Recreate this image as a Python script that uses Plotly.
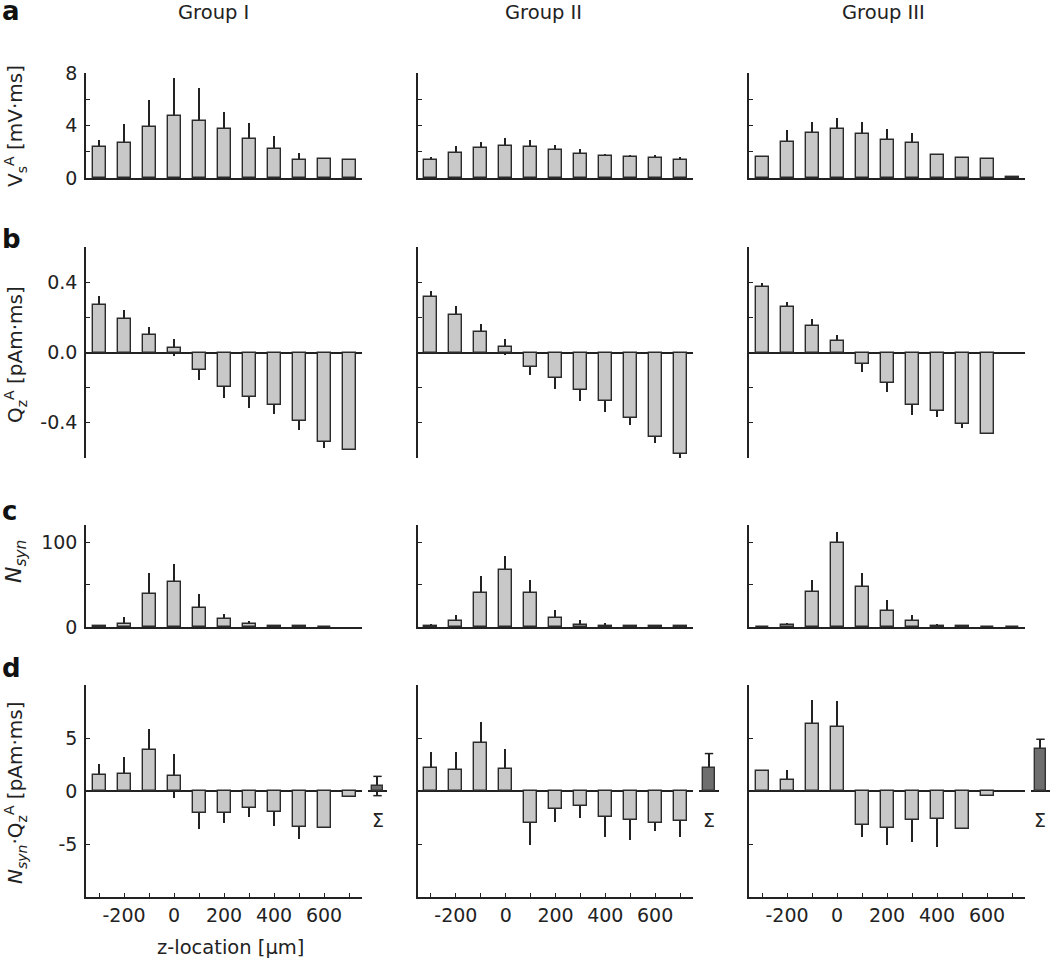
import plotly.graph_objects as go

W, H = 1050, 963

# ---------------- data ----------------
z_um = [-300, -200, -100, 0, 100, 200, 300, 400, 500, 600, 700]
x_major_vals = [-200, 0, 200, 400, 600]
x_major_text = ["-200", "0", "200", "400", "600"]
x_minor_vals = [-300, -100, 100, 300, 500, 700]
group_names = ["Group I", "Group II", "Group III"]

# row a: V_s^A [mV·ms]
vs_g1 = [2.37, 2.70, 3.91, 4.70, 4.32, 3.74, 2.95, 2.20, 1.36, 1.44, 1.34]
vs_g1_err = [0.51, 1.44, 2.02, 2.90, 2.57, 1.29, 1.24, 0.98, 0.56, 0, 0]
vs_g2 = [1.38, 1.93, 2.25, 2.45, 2.35, 2.13, 1.85, 1.65, 1.58, 1.50, 1.38]
vs_g2_err = [0.25, 0.50, 0.53, 0.63, 0.58, 0.40, 0.35, 0.20, 0.20, 0.23, 0.25]
vs_g3 = [1.63, 2.73, 3.43, 3.73, 3.38, 2.93, 2.63, 1.73, 1.55, 1.43, 0.05]
vs_g3_err = [0, 0.90, 0.80, 0.85, 0.87, 0.80, 0.82, 0.07, 0, 0, 0]

# row b: Q_z^A [pAm·ms]
qz_g1 = [0.270, 0.190, 0.099, 0.027, -0.101, -0.196, -0.251, -0.301, -0.390, -0.510, -0.552]
qz_g1_err = [0.050, 0.052, 0.048, 0.049, 0.055, 0.061, 0.067, 0.046, 0.048, 0.033, 0]
qz_g2 = [0.313, 0.214, 0.114, 0.030, -0.080, -0.146, -0.212, -0.277, -0.372, -0.480, -0.576]
qz_g2_err = [0.036, 0.048, 0.049, 0.044, 0.049, 0.064, 0.063, 0.060, 0.041, 0.034, 0.027]
qz_g3 = [0.375, 0.258, 0.152, 0.063, -0.068, -0.174, -0.300, -0.334, -0.404, -0.461, None]
qz_g3_err = [0.021, 0.032, 0.041, 0.039, 0.044, 0.050, 0.055, 0.032, 0.026, 0, 0]

# row c: N_syn
ns_g1 = [0.8, 4.0, 38.5, 52.4, 21.8, 9.5, 3.2, 1.2, 0.8, 0.4, None]
ns_g1_err = [0.8, 7.5, 25.0, 22.2, 16.7, 5.6, 4.3, 1.6, 1.2, 0.2, 0]
ns_g2 = [1.6, 7.1, 39.7, 66.7, 39.7, 10.3, 2.8, 1.6, 1.2, 0.8, 0.8]
ns_g2_err = [2.0, 7.6, 19.8, 17.0, 15.9, 9.5, 5.5, 3.2, 1.6, 0.8, 0.8]
ns_g3 = [0.4, 2.4, 41.7, 98.4, 46.8, 18.7, 7.1, 1.2, 0.8, 0.2, 0.2]
ns_g3_err = [0, 2.8, 13.1, 13.9, 16.7, 12.6, 7.2, 2.8, 1.6, 0, 0]

# row d: N_syn·Q_z^A [pAm·ms]
nq_g1 = [1.47, 1.56, 3.88, 1.41, -2.06, -2.06, -1.56, -1.97, -3.44, -3.53, -0.56]
nq_g1_err = [1.09, 1.63, 2.00, 2.09, 1.57, 0.94, 0.88, 1.31, 1.12, 0, 0]
nq_g2 = [2.13, 1.94, 4.50, 2.03, -3.03, -1.69, -1.44, -2.47, -2.78, -3.03, -2.84]
nq_g2_err = [1.59, 1.72, 2.00, 1.91, 2.10, 1.22, 1.15, 1.87, 1.85, 0.72, 1.47]
nq_g3 = [1.91, 1.00, 6.28, 6.06, -3.16, -3.47, -2.75, -2.66, -3.59, -0.50, None]
nq_g3_err = [0, 0.97, 2.31, 2.44, 1.22, 1.66, 2.09, 2.59, 0, 0, 0]

# Σ (sum over z) for row d
sigma_vals = [0.47, 2.19, 3.97]
sigma_errs = [0.91, 1.34, 0.91]

# y-axis ticks per row
row_ranges = [[0, 8], [-0.6, 0.6], [0, 120], [-10, 10]]
row_major_vals = [[0, 4, 8], [-0.4, 0, 0.4], [0, 100], [-5, 0, 5]]
row_major_text = [["0", "4", "8"], ["-0.4", "0.0", "0.4"], ["0", "100"], ["-5", "0", "5"]]
row_minor_vals = [[2, 6], [-0.2, 0.2], [50], []]

# ---------------- style / layout ----------------
FONT = "DejaVu Sans, Liberation Sans, Arial, sans-serif"
INK = "#222222"
BAR_FILL = "#c8c8c8"
SIG_FILL = "#6e6e6e"

col_x = [(86, 362), (418, 693), (749, 1025)]
sig_x = [(368, 387), (699, 719), (1031, 1050)]
row_y = [(73, 178), (247, 458), (525, 627), (685, 897)]

rows_data = [
    [(vs_g1, vs_g1_err), (vs_g2, vs_g2_err), (vs_g3, vs_g3_err)],
    [(qz_g1, qz_g1_err), (qz_g2, qz_g2_err), (qz_g3, qz_g3_err)],
    [(ns_g1, ns_g1_err), (ns_g2, ns_g2_err), (ns_g3, ns_g3_err)],
    [(nq_g1, nq_g1_err), (nq_g2, nq_g2_err), (nq_g3, nq_g3_err)],
]


def dom_x(a, b):
    return [a / W, b / W]


def dom_y(top, bottom):
    return [1 - bottom / H, 1 - top / H]


def key(prefix, n):
    return prefix if n == 1 else f"{prefix}{n}"


fig = go.Figure()
layout = {}
tick_font = dict(family=FONT, size=19, color=INK)

for r in range(4):
    for c in range(3):
        n = r * 3 + c + 1
        xa, ya = key("x", n), key("y", n)
        vals, errs = rows_data[r][c]
        base = [None if v is None else v - e for v, e in zip(vals, errs)]
        span = [None if v is None else 2 * e for v, e in zip(vals, errs)]
        # error lines first, so the bar hides the inner half
        fig.add_trace(go.Bar(x=z_um, y=span, base=base, width=6,
                             marker=dict(color=INK, line=dict(width=0)),
                             xaxis=xa, yaxis=ya, hoverinfo="skip"))
        fig.add_trace(go.Bar(x=z_um, y=vals, width=52,
                             marker=dict(color=BAR_FILL, line=dict(color="#2b2b2b", width=1.4)),
                             xaxis=xa, yaxis=ya))
        is_d = r == 3
        layout[key("xaxis", n)] = dict(
            domain=dom_x(*col_x[c]), anchor=ya, range=[-352, 752],
            showgrid=False, zeroline=False,
            showline=(r in (0, 2, 3)), linecolor=INK, linewidth=1.5,
            ticks="inside" if is_d else "", ticklen=4, tickwidth=1.2, tickcolor=INK,
            tickmode="array", tickvals=x_major_vals, ticktext=x_major_text,
            minor=dict(tickmode="array", tickvals=x_minor_vals if is_d else [],
                       ticks="inside" if is_d else "", ticklen=4, tickwidth=1.2,
                       tickcolor=INK, showgrid=False),
            showticklabels=is_d, tickfont=tick_font,
            automargin=False, fixedrange=True,
        )
        layout[key("yaxis", n)] = dict(
            domain=dom_y(*row_y[r]), anchor=xa, range=row_ranges[r],
            showgrid=False, zeroline=(r in (1, 3)), zerolinecolor=INK, zerolinewidth=1.5,
            showline=True, linecolor=INK, linewidth=1.5,
            ticks="inside", ticklen=4, tickwidth=1.2, tickcolor=INK,
            tickmode="array", tickvals=row_major_vals[r], ticktext=row_major_text[r],
            minor=dict(tickmode="array", tickvals=row_minor_vals[r], ticks="inside",
                       ticklen=4, tickwidth=1.2, tickcolor=INK, showgrid=False),
            showticklabels=(c == 0), tickfont=tick_font,
            ticklabelstandoff=3, automargin=False, fixedrange=True,
        )

# Σ panels
for c in range(3):
    n = 13 + c
    xa, ya = key("x", n), key("y", n)
    v, e = sigma_vals[c], sigma_errs[c]
    fig.add_trace(go.Bar(x=[0], y=[2 * e], base=[v - e], width=0.08,
                         marker=dict(color=INK, line=dict(width=0)),
                         xaxis=xa, yaxis=ya, hoverinfo="skip"))
    fig.add_trace(go.Bar(x=[0], y=[v], width=0.6,
                         marker=dict(color=SIG_FILL, line=dict(color="#333333", width=1.4)),
                         xaxis=xa, yaxis=ya))
    cap_y = [v + e] + ([v - e] if (v - e) < 0 else [])
    fig.add_trace(go.Scatter(x=[0] * len(cap_y), y=cap_y, mode="markers",
                             marker=dict(symbol="line-ew", size=6,
                                         line=dict(color=INK, width=1.5)),
                             xaxis=xa, yaxis=ya, hoverinfo="skip"))
    layout[key("xaxis", n)] = dict(domain=dom_x(*sig_x[c]), anchor=ya, range=[-0.5, 0.5],
                                   showgrid=False, zeroline=False, showline=False,
                                   showticklabels=False, ticks="", fixedrange=True)
    layout[key("yaxis", n)] = dict(domain=dom_y(*row_y[3]), anchor=xa, range=row_ranges[3],
                                   showgrid=False, zeroline=True, zerolinecolor=INK,
                                   zerolinewidth=1.5, showline=False, showticklabels=False,
                                   ticks="", fixedrange=True)

annotations = []


def ann(text, x, y, size, angle=0, bold=False, color=INK, xanchor="center"):
    annotations.append(dict(
        text=f"<b>{text}</b>" if bold else text, x=x / W, y=1 - y / H,
        xref="paper", yref="paper", xanchor=xanchor, yanchor="middle",
        showarrow=False, textangle=angle,
        font=dict(family=FONT, size=size, color=color)))


# group titles
for name, cx in zip(group_names, [213, 543, 883]):
    ann(name, cx, 12, 19.5)

# panel letters
for letter, yy in zip(["a", "b", "c", "d"], [11, 239, 511, 668]):
    ann(letter, 0, yy, 26, bold=True, color="#111111", xanchor="left")

# y-axis titles
ann("V<sub>s</sub><sup>A</sup> [mV·ms]", 15, 126, 20, angle=-90)
ann("Q<sub>z</sub><sup>A</sup> [pAm·ms]", 15, 355, 20, angle=-90)
ann("<i>N</i><sub><i>syn</i></sub>", 15, 562, 22, angle=-90)
ann("<i>N</i><sub><i>syn</i></sub>·Q<sub>z</sub><sup>A</sup> [pAm·ms]", 15, 793, 20, angle=-90)

# x-axis title
ann("z-location [µm]", 230, 947, 19.5)

# Σ labels
for cx in [378, 709, 1040]:
    ann("Σ", cx, 820, 19)

fig.update_layout(
    width=W, height=H, margin=dict(l=0, r=0, t=0, b=0),
    plot_bgcolor="white", paper_bgcolor="white",
    showlegend=False, barmode="overlay", bargap=0,
    annotations=annotations, **layout,
)

fig.write_html("out.html", config={"displayModeBar": False},
               post_script="document.body.style.margin='0';document.body.style.overflow='hidden';")
